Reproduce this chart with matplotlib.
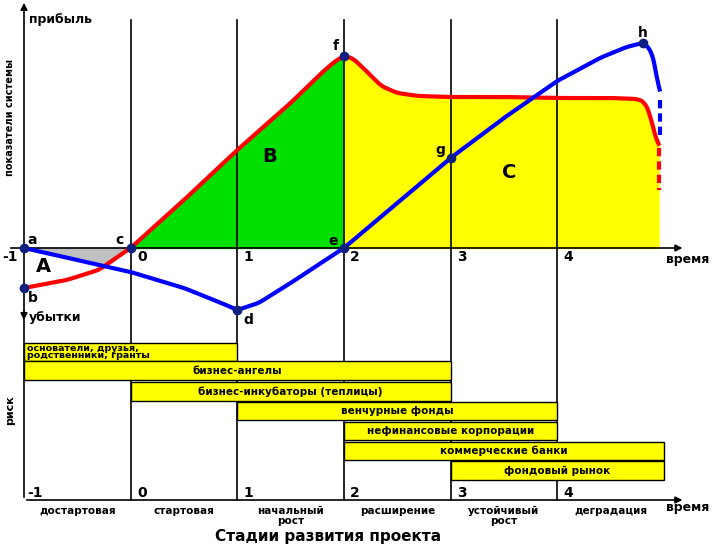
import numpy as np
import matplotlib.pyplot as plt
from matplotlib.patches import Rectangle

stages = [-1, 0, 1, 2, 3, 4]
stage_names = ["достартовая", "стартовая", "начальный\nрост", "расширение", "устойчивый\nрост", "деградация"]

red_x = [-1, -0.6, -0.3, 0, 0.5, 1, 1.5, 1.8, 1.92, 2, 2.08, 2.2, 2.35, 2.5, 2.7, 3, 3.5, 4, 4.5, 4.75, 4.82, 4.87, 4.91, 4.95]
red_y = [-40, -32, -22, 0, 48, 98, 145, 176, 187, 192, 190, 178, 162, 155, 152, 151, 151, 150, 150, 149, 146, 135, 115, 100]
red_dash_x = [4.95, 4.95]
red_dash_y = [100, 58]

blue_x = [-1, -0.5, 0, 0.5, 0.85, 1, 1.2, 1.5, 2, 2.5, 3, 3.5, 4, 4.4, 4.65, 4.8, 4.87, 4.91, 4.94, 4.96]
blue_y = [0, -12, -24, -40, -55, -62, -55, -35, 0, 45, 90, 130, 167, 190, 201, 205, 200, 188, 170, 148]
blue_dash_x = [4.96, 4.96]
blue_dash_y = [148, 113]

points = {"a": (-1, 0), "b": (-1, -40), "c": (0, 0), "d": (1, -62),
          "e": (2, 0), "f": (2, 192), "g": (3, 90), "h": (4.8, 205)}
label_off = {"a": (0.08, 8), "b": (0.08, -10), "c": (-0.1, 8), "d": (0.1, -10),
             "e": (-0.1, 7), "f": (-0.08, 10), "g": (-0.1, 8), "h": (0.0, 10)}

sources = ["основатели, друзья,\nродственники, гранты", "бизнес-ангелы",
           "бизнес-инкубаторы (теплицы)", "венчурные фонды",
           "нефинансовые корпорации", "коммерческие банки", "фондовый рынок"]
src_start = [-1, -1, 0, 1, 2, 2, 3]
src_end = [1, 3, 3, 4, 4, 5, 5]


def smooth(xs, ys, n=600):
    xs = np.asarray(xs, float); ys = np.asarray(ys, float)
    t = np.linspace(xs[0], xs[-1], n)
    y = np.interp(t, xs, ys)
    k = 9
    ker = np.ones(k) / k
    yp = np.pad(y, k // 2, mode="edge")
    ys2 = np.convolve(yp, ker, mode="valid")
    # keep anchored points exact near named points
    return t, ys2


fig = plt.figure(figsize=(7.14, 5.48), dpi=100)
ax = fig.add_axes([0, 0, 1, 1])
ax.set_xlim(-1.225, 5.47)
ax.set_ylim(-300, 248)
ax.axis("off")

rx, ry = smooth(red_x, red_y)
bx, by = smooth(blue_x, blue_y)

xx = np.linspace(-1, 0, 100)
rr = np.interp(xx, rx, ry); bb = np.interp(xx, bx, by)
ax.fill_between(xx, 0, np.maximum(rr, bb), color="#c0c0c0", zorder=1)
xx = np.linspace(0, 2, 200)
ax.fill_between(xx, 0, np.interp(xx, rx, ry), color="#00e000", zorder=1)
xx = np.linspace(2, 4.95, 300)
ax.fill_between(xx, 0, np.interp(xx, rx, ry), color="#ffff00", zorder=1)

for s in stages[1:]:
    ax.plot([s, s], [228, -252], color="black", lw=1.2, zorder=2)
ax.annotate("", xy=(-1, 248), xytext=(-1, -252),
            arrowprops=dict(arrowstyle="-|>", color="black", lw=1.2), zorder=3)
ax.annotate("", xy=(-1, -75), xytext=(-1, -60),
            arrowprops=dict(arrowstyle="-|>", color="black", lw=1.2), zorder=3)
ax.annotate("", xy=(5.2, 0), xytext=(-1.15, 0),
            arrowprops=dict(arrowstyle="-|>", color="black", lw=1.2), zorder=3)
ax.annotate("", xy=(5.2, -252), xytext=(-1, -252),
            arrowprops=dict(arrowstyle="-|>", color="black", lw=1.2), zorder=3)

ax.plot(rx, ry, color="red", lw=3, zorder=4)
ax.plot(red_dash_x, red_dash_y, color="red", lw=3, ls=(0, (2, 1.2)), zorder=4)
ax.plot(bx, by, color="blue", lw=3, zorder=5)
ax.plot(blue_dash_x, blue_dash_y, color="blue", lw=3, ls=(0, (2, 1.2)), zorder=5)

for k, (px, py) in points.items():
    ax.plot(px, py, "o", color="#102080", ms=6, zorder=6)
    dx, dy = label_off[k]
    ax.text(px + dx, py + dy, k, fontsize=10, fontweight="bold", ha="center", va="center", zorder=7)

ax.text(-0.82, -18, "A", fontsize=14, fontweight="bold", ha="center", va="center", zorder=7)
ax.text(1.3, 92, "B", fontsize=14, fontweight="bold", ha="center", va="center", zorder=7)
ax.text(3.55, 76, "C", fontsize=14, fontweight="bold", ha="center", va="center", zorder=7)

for s in stages:
    ax.text(s + 0.06 if s > -1 else -1.2, -9, str(s), fontsize=10, fontweight="bold", va="center", ha="left")
    ax.text(s + 0.06 if s > -1 else -0.97, -245, str(s), fontsize=10, fontweight="bold", va="center", ha="left")

ax.text(-0.95, 228, "прибыль", fontsize=9, fontweight="bold", va="center")
ax.text(-0.95, -70, "убытки", fontsize=9, fontweight="bold", va="center")
ax.text(-1.13, 130, "показатели системы", fontsize=7, fontweight="bold", rotation=90, ha="center", va="center")
ax.text(-1.13, -162, "риск", fontsize=8, fontweight="bold", rotation=90, ha="center", va="center")
ax.text(5.02, -12, "время", fontsize=9, fontweight="bold", va="center")
ax.text(5.02, -260, "время", fontsize=9, fontweight="bold", va="center")

tops = [-95, -113, -134, -154, -174, -194, -213]
hts = [18, 19, 19, 18, 18, 18, 19]
for i, name in enumerate(sources):
    w = src_end[i] - src_start[i]
    ax.add_patch(Rectangle((src_start[i], tops[i] - hts[i]), w, hts[i],
                           facecolor="#ffff00", edgecolor="black", lw=1, zorder=3))
    if i == 0:
        ax.text(src_start[i] + 0.03, tops[i] - hts[i] / 2, name, fontsize=6.8, fontweight="bold",
                va="center", ha="left", linespacing=0.85, zorder=4)
    else:
        ax.text((src_start[i] + src_end[i]) / 2, tops[i] - hts[i] / 2, name, fontsize=7.5,
                fontweight="bold", va="center", ha="center", zorder=4)

for s, nm in zip(stages, stage_names):
    ax.text(s + 0.5, -258, nm, fontsize=7.5, fontweight="bold", ha="center", va="top", linespacing=0.95)
ax.text(1.85, -288, "Стадии развития проекта", fontsize=11, fontweight="bold", ha="center", va="center")

fig.savefig("out.png", dpi=100)
